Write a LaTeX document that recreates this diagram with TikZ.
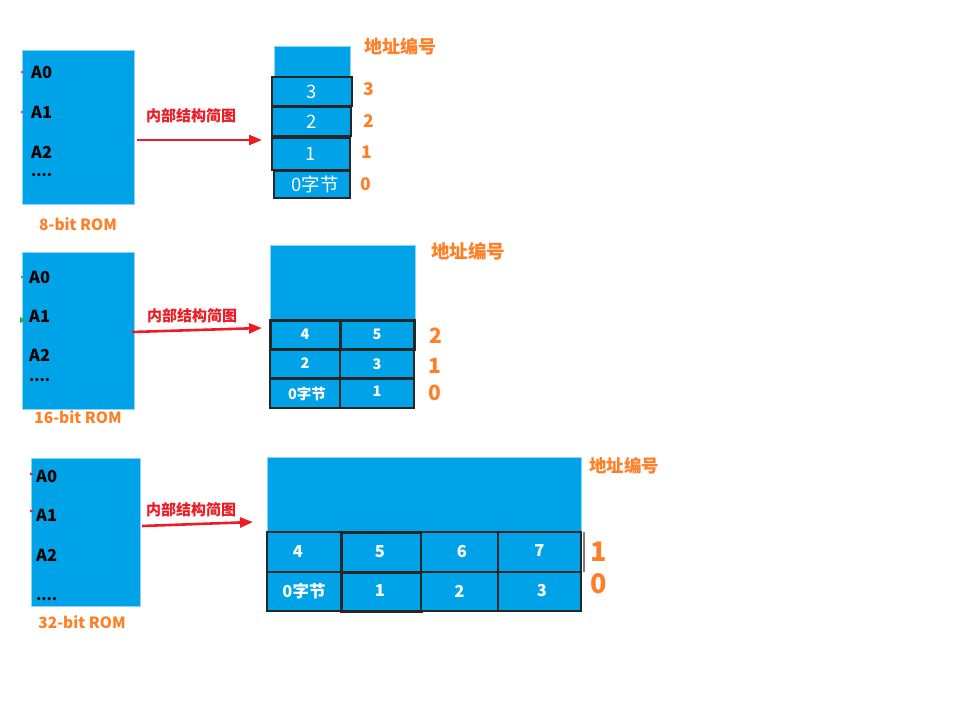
\documentclass[tikz,border=0pt]{standalone}
\usepackage{fontspec}
\setmainfont{Noto Sans CJK SC}
\usetikzlibrary{arrows.meta}
\definecolor{romblue}{HTML}{00A2E8}
\definecolor{orng}{HTML}{FF7F27}
\definecolor{rd}{HTML}{ED1C24}
\definecolor{mag}{HTML}{D13CB0}
\definecolor{grn}{HTML}{22B14C}
\newcommand{\fs}[1]{\fontsize{#1}{#1}\selectfont}
\begin{document}
\begin{tikzpicture}[x=1pt,y=-1pt,
 blk/.style={fill=romblue, draw=romblue!45, line width=0.6pt, anchor=north west, inner sep=0, outer sep=0},
 cell/.style={fill=romblue, draw=black!85, line width=2pt, anchor=north west, inner sep=0, outer sep=0, text=white},
 pin/.style={font=\bfseries\fs{16.5}, anchor=west, inner sep=0},
 dots/.style={font=\bfseries\fs{15}, anchor=west, inner sep=0},
 romcap/.style={text=orng, font=\bfseries\fs{15.5}, inner sep=0},
 arr/.style={draw=rd, line width=2.6pt, -{Triangle[length=13pt,width=10pt]}},
 alab/.style={text=rd, font=\bfseries\fs{15}, inner sep=0},
 addr/.style={text=orng, font=\bfseries, inner sep=0, anchor=west},
 num/.style={text=orng, font=\bfseries, inner sep=0}]
\path[use as bounding box] (0,0) rectangle (975,707);

% ---------- section 1 ----------
\node[blk, minimum width=112, minimum height=154] (rom1) at (22,50) {};
\node[pin] (r1a0) at (31,72) {A0};
\node[pin] (r1a1) at (31,112) {A1};
\node[pin] (r1a2) at (31,152) {A2};
\node[dots] (r1d) at (31,175) {....};
\fill[mag] (21,70.5) -- (24,72) -- (21,73.5) -- cycle;
\fill[mag] (21,110.5) -- (24,112) -- (21,113.5) -- cycle;
\node[romcap] (c1) at (78,224) {8-bit ROM};
\coordinate (a1s) at (137,140);
\coordinate (a1e) at (262,140);
\draw[arr] (a1s) -- (a1e);
\node[alab] (l1) at (191,116) {内部结构简图};

\node[blk, minimum width=76, minimum height=31] (m1top) at (274,46) {};
\begin{scope}[every node/.append style={font=\fs{18.5}}]
\node[cell, minimum width=80, minimum height=29] (m13) at (272,77) {3};
\node[cell, minimum width=79, minimum height=29] (m12) at (272,107) {2};
\node[cell, minimum width=78, minimum height=32] (m11) at (272,138) {1};
\node[cell, minimum width=76, minimum height=27] (m10) at (274,171) {\hspace{6pt}0字节};
\end{scope}
\node[addr, font=\bfseries\fs{18}] (ad1) at (364,47) {地址编号};
\node[num, font=\bfseries\fs{17.5}] (n13) at (369,89) {3};
\node[num, font=\bfseries\fs{17.5}] (n12) at (369,121) {2};
\node[num, font=\bfseries\fs{17.5}] (n11) at (367,152) {1};
\node[num, font=\bfseries\fs{17.5}] (n10) at (366,184) {0};

% ---------- section 2 ----------
\node[blk, minimum width=112, minimum height=157] (rom2) at (22,252) {};
\node[pin] (r2a0) at (29,277) {A0};
\node[pin] (r2a1) at (29,316) {A1};
\node[pin] (r2a2) at (29,355) {A2};
\node[dots] (r2d) at (29,380) {....};
\fill[grn] (21,275.5) -- (24,277) -- (21,278.5) -- cycle;
\fill[grn] (20,317) -- (26,320) -- (20,323) -- cycle;
\node[romcap] (c2) at (78,417) {16-bit ROM};
\coordinate (a2s) at (132,332);
\coordinate (a2e) at (262,328);
\draw[arr] (a2s) -- (a2e);
\node[alab] (l2) at (192,316) {内部结构简图};

\node[blk, minimum width=145, minimum height=75] (m2top) at (270,245) {};
\begin{scope}[every node/.append style={font=\bfseries\fs{14.5}}]
\node[cell, line width=3pt, minimum width=70, minimum height=29] (m24) at (270,320) {\raisebox{-4pt}{4}};
\node[cell, line width=3pt, minimum width=74, minimum height=29] (m25) at (340,320) {5};
\node[cell, minimum width=70, minimum height=28] (m22) at (270,350) {\raisebox{2pt}{2}};
\node[cell, minimum width=74, minimum height=28] (m23) at (340,350) {3};
\node[cell, minimum width=70, minimum height=29] (m20) at (270,379) {\hspace{4pt}0字节};
\node[cell, minimum width=74, minimum height=29] (m21) at (340,379) {\raisebox{4pt}{1}};
\end{scope}
\node[addr, font=\bfseries\fs{18.5}] (ad2) at (431,251) {地址编号};
\node[num, font=\bfseries\fs{21}] (n22) at (436,336) {2};
\node[num, font=\bfseries\fs{21}] (n21) at (435,366) {1};
\node[num, font=\bfseries\fs{21}] (n20) at (435,393) {0};

% ---------- section 3 ----------
\node[blk, minimum width=109, minimum height=148] (rom3) at (31,458) {};
\node[pin] (r3a0) at (36,476) {A0};
\node[pin] (r3a1) at (36,515) {A1};
\node[pin] (r3a2) at (36,555) {A2};
\node[dots] (r3d) at (36,599) {....};
\fill[rd] (30,472.5) -- (34,474) -- (30,475.5) -- cycle;
\fill[rd] (30,509.5) -- (34,511) -- (30,512.5) -- cycle;
\node[romcap] (c3) at (82,622) {32-bit ROM};
\coordinate (a3s) at (142,526);
\coordinate (a3e) at (253,522);
\draw[arr] (a3s) -- (a3e);
\node[alab] (l3) at (191,510) {内部结构简图};

\node[blk, minimum width=314, minimum height=75] (m3top) at (267,457) {};
\begin{scope}[every node/.append style={font=\bfseries\fs{16.5}}]
\node[cell, minimum width=74, minimum height=40] (m34) at (267,532) {\hspace{-12pt}\raisebox{-2pt}{4}};
\node[cell, line width=3pt, minimum width=80, minimum height=40] (m35) at (341,532) {\hspace{-2pt}5};
\node[cell, minimum width=77, minimum height=40] (m36) at (421,532) {\hspace{5pt}6};
\node[cell, minimum width=83, minimum height=40] (m37) at (498,532) {\raisebox{2pt}{7}};
\node[cell, minimum width=74, minimum height=39] (m30) at (267,572) {0字节};
\node[cell, line width=3pt, minimum width=80, minimum height=39] (m31) at (341,572) {\hspace{-2pt}\raisebox{1pt}{1}};
\node[cell, minimum width=77, minimum height=39] (m32) at (421,572) {\raisebox{-1pt}{2}};
\node[cell, minimum width=83, minimum height=39] (m33) at (498,572) {\hspace{5pt}\raisebox{2pt}{3}};
\end{scope}
\draw[black!50, line width=2pt] (m37.north east) ++(3,0) -- ++(0,40);
\node[addr, font=\bfseries\fs{17.5}] (ad3) at (589,466) {地址编号};
\node[num, font=\bfseries\fs{27}] (n31) at (599,552) {1};
\node[num, font=\bfseries\fs{27}] (n30) at (599,584) {0};
\end{tikzpicture}
\end{document}
